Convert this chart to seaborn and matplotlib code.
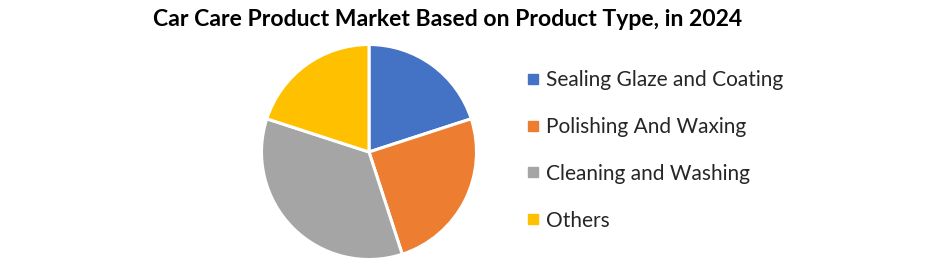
import matplotlib
matplotlib.use("Agg")
import matplotlib.pyplot as plt
import seaborn as sns
from matplotlib.lines import Line2D

categories = ["Sealing Glaze and Coating", "Polishing And Waxing", "Cleaning and Washing", "Others"]
shares = [20, 25, 35, 20]
colors = ["#4472C4", "#ED7D31", "#A5A5A5", "#FFC000"]
title = "Car Care Product Market Based on Product Type, in 2024"

sns.set_style("white")
plt.rcParams["font.family"] = ["Lato", "DejaVu Sans"]

W, H = 943, 262
fig = plt.figure(figsize=(W / 100, H / 100), dpi=100)
fig.patch.set_facecolor("white")

cx, cy, r = 369, 152, 107.5
ax = fig.add_axes([(cx - r) / W, (H - cy - r) / H, 2 * r / W, 2 * r / H])
palette = sns.color_palette(colors)
ax.pie(shares, colors=palette, startangle=90, counterclock=False, radius=1,
       wedgeprops=dict(edgecolor="white", linewidth=2.2))
ax.set_xlim(-1.0, 1.0)
ax.set_ylim(-1.0, 1.0)
ax.set_aspect("equal")
ax.axis("off")

fig.text(448 / W, 1 - 19 / H, title, ha="center", va="center",
         fontsize=16.6, fontweight="bold", color="black")

handles = [Line2D([0], [0], marker="s", linestyle="none", markersize=7.5,
                  markerfacecolor=c, markeredgecolor=c) for c in palette]
fig.legend(handles, categories, loc="upper left",
           bbox_to_anchor=(525 / W, 1 - 70 / H), frameon=False,
           fontsize=15, labelspacing=1.29, handletextpad=0.2,
           handlelength=0.8, borderaxespad=0, borderpad=0)

fig.savefig("out.png", dpi=100, facecolor="white")
